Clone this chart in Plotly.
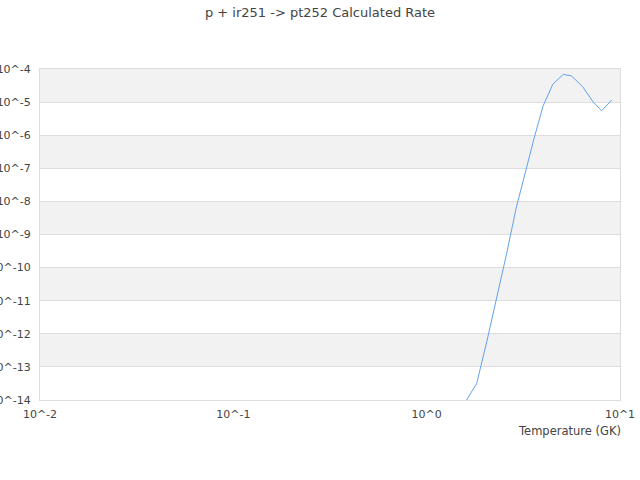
import plotly.graph_objects as go

# Temperature (GK) and calculated rate
temperature = [1.54, 1.815, 2.05, 2.31, 2.60, 2.90, 3.23, 3.59, 4.00,
               4.49, 5.09, 5.62, 6.41, 7.28, 8.04, 9.06]
rate = [6.6e-15, 3.19e-14, 6.07e-13, 1.32e-11, 2.88e-10, 6.1e-9, 7.8e-8,
        7.8e-7, 7.6e-6, 3.45e-5, 6.9e-5, 6.15e-5, 2.92e-5, 9.9e-6,
        5.5e-6, 1.16e-5]

x_ticks = [0.01, 0.1, 1, 10]
x_labels = ["10^-2", "10^-1", "10^0", "10^1"]
y_ticks = [10.0 ** -k for k in range(4, 15)]
y_labels = ["10^-%d" % k for k in range(4, 15)]

grey = "#dddddd"
text_col = "#444444"

fig = go.Figure()
fig.add_trace(go.Scatter(
    x=temperature, y=rate, mode="lines",
    line=dict(color="#5fa2ee", width=1),
    hoverinfo="x+y", showlegend=False,
))

# alternating bands between decades
shapes = []
for k in range(5, 15, 2):
    shapes.append(dict(
        type="rect", xref="paper", x0=0, x1=1,
        yref="y", y0=10.0 ** -k, y1=10.0 ** -(k - 1),
        fillcolor="#f2f2f2", line=dict(width=0), layer="below",
    ))

fig.update_layout(
    width=640, height=480,
    margin=dict(l=40, r=20, t=69, b=80, autoexpand=False),
    paper_bgcolor="white", plot_bgcolor="white",
    font=dict(family="DejaVu Sans", size=11, color=text_col),
    title=dict(text="p + ir251 -> pt252 Calculated Rate",
               x=0.5, xanchor="center", yref="container", y=0.975,
               yanchor="middle", font=dict(size=13, color=text_col)),
    shapes=shapes,
    annotations=[dict(
        text="Temperature (GK)", xref="paper", yref="paper",
        x=1, y=0, xanchor="right", yanchor="middle", xshift=3, yshift=-31,
        showarrow=False, font=dict(size=11.5, color=text_col),
    )],
)
fig.update_xaxes(
    type="log", range=[-2, 1], tickvals=x_ticks, ticktext=x_labels,
    showgrid=False, zeroline=False, showline=True, linecolor=grey,
    mirror=True, ticks="outside", ticklen=4, tickcolor="rgba(0,0,0,0)",
)
fig.update_yaxes(
    type="log", range=[-14, -4], tickvals=y_ticks, ticktext=y_labels,
    showgrid=True, gridcolor=grey, zeroline=False, showline=True,
    linecolor=grey, mirror=True, ticks="outside", ticklen=6,
    tickcolor="rgba(0,0,0,0)",
)

# drop the default body margin so the figure sits at the window's corner
fig.write_html("out.html", config={"displayModeBar": False},
               post_script="document.body.style.margin = '0';")
